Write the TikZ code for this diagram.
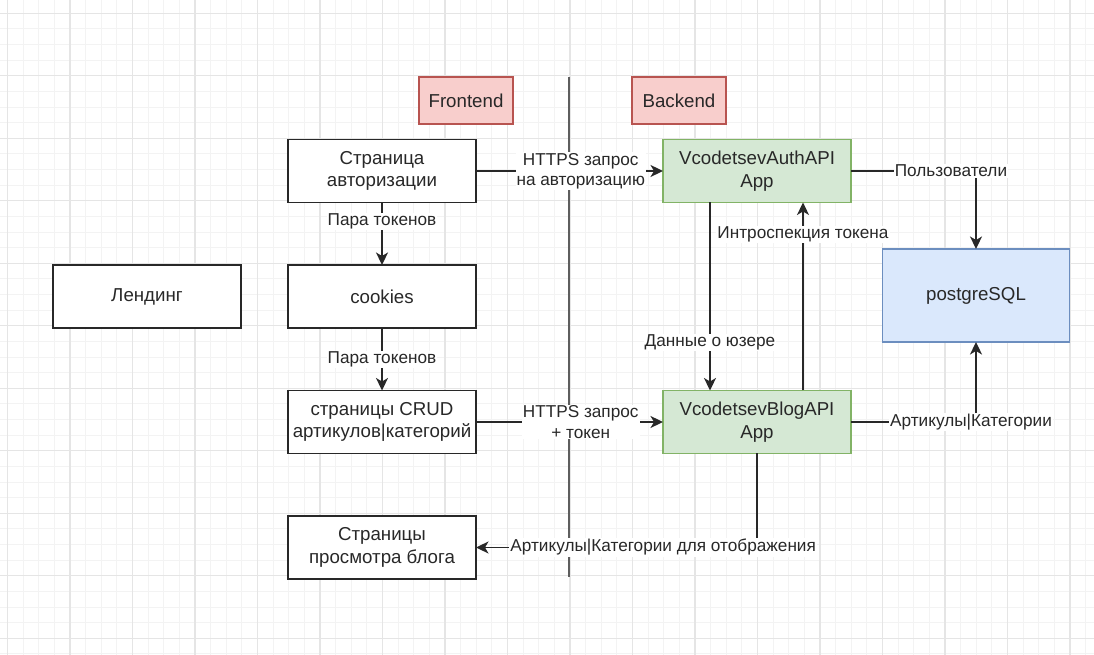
\documentclass[tikz,border=0pt]{standalone}
\usepackage{fontspec}
\setmainfont{Liberation Sans}
\usetikzlibrary{arrows.meta, positioning}
\definecolor{gridmajor}{RGB}{229,229,229}
\definecolor{gridminor}{RGB}{243,243,243}
\definecolor{redfill}{RGB}{248,206,204}
\definecolor{redline}{RGB}{184,84,80}
\definecolor{greenfill}{RGB}{213,232,212}
\definecolor{greenline}{RGB}{130,179,102}
\definecolor{bluefill}{RGB}{218,232,252}
\definecolor{blueline}{RGB}{108,142,191}
\definecolor{darkline}{RGB}{40,40,40}
\newcommand{\diagboxfont}{\fontsize{18.7bp}{22.4bp}\selectfont}
\newcommand{\diaglblfont}{\fontsize{17.2bp}{20.4bp}\selectfont}

\begin{document}
\begin{tikzpicture}[
    x=1bp, y=1bp,
    node distance=62.5bp and 187bp,
    page/.style={rectangle, draw=darkline, line width=1.6bp, fill=white, minimum width=188bp,
                 minimum height=63bp, inner sep=0pt, outer sep=0pt, align=center,
                 font=\diagboxfont, text=darkline},
    service/.style={page, draw=greenline, fill=greenfill},
    tag/.style={page, draw=redline, fill=redfill, minimum width=94bp, minimum height=47bp},
    conn/.style={-{Stealth[length=12.5bp, width=12bp, inset=3.5bp]}, line width=1.6bp, draw=darkline},
    lbl/.style={fill=white, inner sep=1bp, align=center, font=\diaglblfont, text=darkline}
]
    % Background and grid
    \fill[white] (0,0) rectangle (1094,655);
    \useasboundingbox (0,0) rectangle (1094,655);
    \foreach \i in {0,...,69}
        \draw[gridminor, line width=1bp] ({7.5+15.625*\i},0) -- ++(0,655);
    \foreach \j in {0,...,41}
        \draw[gridminor, line width=1bp] (0,{641.7-15.625*\j}) -- ++(1094,0);
    \foreach \i in {0,...,17}
        \draw[gridmajor, line width=1.3bp] ({7.5+62.5*\i},0) -- ++(0,655);
    \foreach \j in {0,...,10}
        \draw[gridmajor, line width=1.3bp] (0,{641.7-62.5*\j}) -- ++(1094,0);

    % Divider between frontend and backend
    \coordinate (divtop) at (569,578);
    \coordinate (divbot) at (569,78);
    \draw[darkline!75, line width=1.2bp] (divtop) -- (divbot);

    % Frontend pages
    \node[page] (authpage) at (382,484) {Страница\\авторизации};
    \node[page, below=of authpage] (cookies) {cookies};
    \node[page, below=of cookies] (crud) {страницы CRUD\\артикулов|категорий};
    \node[page, below=of crud] (viewpage) {Страницы\\просмотра блога};
    \node[page, left=47bp of cookies] (landing) {Лендинг};

    % Backend services
    \node[service, right=of authpage] (authapi) {VcodetsevAuthAPI\\App};
    \node[service, right=of crud] (blogapi) {VcodetsevBlogAPI\\App};
    \node[page, draw=blueline, fill=bluefill, minimum width=187bp, minimum height=93bp] (postgres) at (976,359.5) {postgreSQL};

    % Headers
    \node[tag] (frontend) at (466,554.5) {Frontend};
    \node[tag] (backend) at (679,554.5) {Backend};

    % Connections
    \draw[conn] (authpage) -- node[lbl, pos=0.56] {HTTPS запрос\\на авторизацию} (authapi);
    \draw[conn] (authpage) -- node[lbl, pos=0.3] {Пара токенов} (cookies);
    \draw[conn] (cookies) -- node[lbl] {Пара токенов} (crud);
    \draw[conn] (crud) -- node[lbl, pos=0.56] {HTTPS запрос\\+ токен} (blogapi);
    \draw[conn] ([xshift=-47bp]authapi.south) -- node[lbl, pos=0.745] {Данные о юзере} ([xshift=-47bp]blogapi.north);
    \draw[conn] ([xshift=46bp]blogapi.north) -- node[lbl, pos=0.83] {Интроспекция токена} ([xshift=46bp]authapi.south);
    \draw[conn] (authapi) -| node[lbl, pos=0.4] {Пользователи} (postgres);
    \draw[conn] (blogapi) -| node[lbl, pos=0.48] {Артикулы|Категории} (postgres);
    \draw[conn] (blogapi) |- node[lbl, pos=0.667] {Артикулы|Категории для отображения} (viewpage);
\end{tikzpicture}
\end{document}
